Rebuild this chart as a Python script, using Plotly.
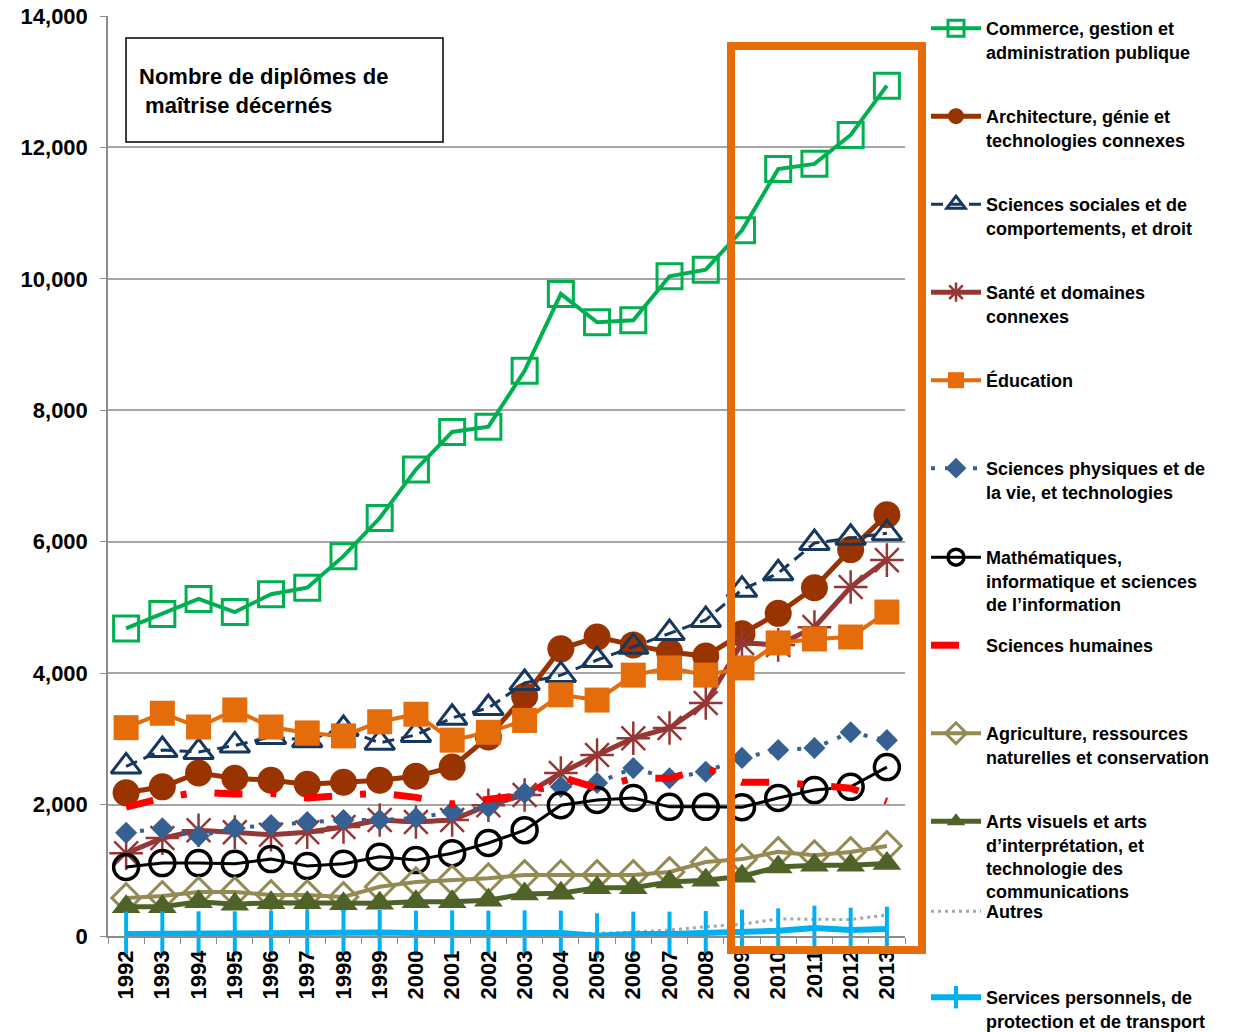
import plotly.graph_objects as go

# ---- data -------------------------------------------------------------
years = ["1992", "1993", "1994", "1995", "1996", "1997", "1998", "1999",
         "2000", "2001", "2002", "2003", "2004", "2005", "2006", "2007",
         "2008", "2009", "2010", "2011", "2012", "2013"]

commerce = [4680, 4900, 5130, 4930, 5200, 5300, 5780, 6360, 7100, 7670, 7750,
            8600, 9770, 9340, 9370, 10040, 10140, 10740, 11670, 11750, 12190, 12940]
architecture = [2180, 2270, 2480, 2400, 2370, 2310, 2340, 2370, 2430, 2570, 3030,
                3650, 4370, 4550, 4430, 4320, 4260, 4600, 4910, 5300, 5880, 6410]
sciences_sociales = [2580, 2830, 2800, 2900, 3030, 2980, 3150, 2940, 3060, 3320, 3470,
                     3850, 3970, 4200, 4400, 4610, 4810, 5270, 5520, 5980, 6060, 6130]
sante = [1260, 1490, 1610, 1580, 1540, 1580, 1660, 1765, 1735, 1765, 1990,
         2145, 2480, 2755, 3010, 3165, 3545, 4460, 4430, 4700, 5310, 5720]
education = [3170, 3390, 3180, 3440, 3180, 3090, 3045, 3260, 3375, 2980, 3100,
             3280, 3670, 3590, 3970, 4080, 3970, 4080, 4460, 4520, 4550, 4930]
sciences_physiques = [1570, 1640, 1520, 1640, 1690, 1735, 1765, 1765, 1795, 1890, 1960,
                      2175, 2270, 2330, 2555, 2400, 2500, 2710, 2830, 2860, 3100, 2980]
mathematiques = [1050, 1110, 1110, 1100, 1170, 1065, 1100, 1205, 1155, 1260, 1415,
                 1610, 1990, 2070, 2100, 1965, 1965, 1960, 2100, 2220, 2270, 2570]
sciences_humaines = [1960, 2100, 2190, 2160, 2170, 2100, 2140, 2175, 2110, 2010, 2080,
                     2145, 2420, 2250, 2400, 2400, 2555, 2340, 2340, 2300, 2250, 2050]
agriculture = [580, 610, 670, 670, 625, 625, 595, 750, 820, 850, 880,
               930, 930, 930, 930, 975, 1125, 1170, 1280, 1230, 1280, 1370]
arts = [445, 445, 520, 485, 505, 505, 490, 500, 520, 520, 545,
        640, 650, 735, 735, 820, 850, 910, 1050, 1075, 1075, 1105]
autres = [30, 30, 30, 30, 30, 30, 30, 60, 50, 40, 40,
          40, 40, 40, 60, 90, 140, 180, 260, 260, 250, 320]
services = [30, 35, 35, 35, 40, 50, 60, 55, 45, 50, 45,
            50, 45, 5, 30, 30, 40, 60, 80, 120, 90, 105]

labels = [
    "Commerce, gestion et<br>administration publique",
    "Architecture, génie et<br>technologies connexes",
    "Sciences sociales et de<br>comportements, et droit",
    "Santé et domaines<br>connexes",
    "Éducation",
    "Sciences physiques et de<br>la vie, et technologies",
    "Mathématiques,<br>informatique et sciences<br>de l’information",
    "Sciences humaines",
    "Agriculture, ressources<br>naturelles et conservation",
    "Arts visuels et arts<br>d’interprétation, et<br>technologie des<br>communications",
    "Autres",
    "Services personnels, de<br>protection et de transport",
]

title_text = "Nombre de diplômes de<br>\u00a0maîtrise décernés"

# ---- styles -------------------------------------------------------------
styles = [
    dict(values=commerce, color="#00B050", width=4, dash="solid",
         symbol="square-open", size=25, mlw=3),
    dict(values=architecture, color="#993300", width=5, dash="solid",
         symbol="circle", size=27, mlw=0),
    dict(values=sciences_sociales, color="#17375E", width=3, dash="12px,7px",
         symbol="triangle-up-open", size=26, mlw=3),
    dict(values=sante, color="#953735", width=5, dash="solid",
         symbol="asterisk-open", size=28, mlw=2.5),
    dict(values=education, color="#E46C0A", width=4, dash="solid",
         symbol="square", size=25, mlw=0),
    dict(values=sciences_physiques, color="#376092", width=4, dash="4px,10px",
         symbol="diamond", size=17, mlw=0),
    dict(values=mathematiques, color="#000000", width=3, dash="solid",
         symbol="circle-open", size=25, mlw=3.5),
    dict(values=sciences_humaines, color="#FF0000", width=7, dash="28px,28px,6px,28px",
         symbol=None, size=0, mlw=0),
    dict(values=agriculture, color="#948A54", width=4, dash="solid",
         symbol="diamond-open", size=22, mlw=3),
    dict(values=arts, color="#4F6228", width=5, dash="solid",
         symbol="triangle-up", size=25, mlw=0),
    dict(values=autres, color="#A6A6A6", width=3, dash="3px,4px",
         symbol=None, size=0, mlw=0),
    dict(values=services, color="#00B0F0", width=6, dash="solid",
         symbol="line-ns-open", size=32, mlw=4),
]

# ---- geometry of the plot area (pixels) -------------------------------
W, H = 1243, 1032
PL, PR, PT, PB = 108, 905, 16, 936


def px_x(x):
    return (x - PL) / (PR - PL)


def px_y(y):
    return (PB - y) / (PB - PT)


FONT = "Arial, 'Liberation Sans', sans-serif"

fig = go.Figure()

legend_layout = {}
legend_first_line = [29, 117, 205, 293, 381, 469, 558, 646, 734, 822, 912, 998]

for i, (lab, st) in enumerate(zip(labels, styles)):
    key = "legend" if i == 0 else f"legend{i + 1}"
    mode = "lines+markers" if st["symbol"] else "lines"
    marker = None
    if st["symbol"]:
        marker = dict(symbol=st["symbol"], size=st["size"], color=st["color"],
                      line=dict(color=st["color"], width=st["mlw"]))
    fig.add_trace(go.Scatter(
        x=years, y=st["values"], name=lab, mode=mode,
        line=dict(color=st["color"], width=st["width"], dash=st["dash"]),
        marker=marker, legend=key,
        cliponaxis=(st["symbol"] != "line-ns-open"),
        hoverinfo="x+y",
    ))
    legend_layout[key] = dict(
        x=px_x(926), xanchor="left",
        y=px_y(legend_first_line[i] - 19), yanchor="top",
        valign="top", itemwidth=50,
        bgcolor="rgba(0,0,0,0)", borderwidth=0,
        font=dict(family=FONT, size=18, color="#000000", weight="bold"),
        traceorder="normal",
    )

fig.update_layout(
    width=W, height=H,
    margin=dict(l=PL, r=W - PR, t=PT, b=H - PB, pad=0, autoexpand=False),
    paper_bgcolor="white", plot_bgcolor="white",
    font=dict(family=FONT, color="#000000"),
    showlegend=True,
    **legend_layout,
)

fig.update_xaxes(
    type="category", categoryorder="array", categoryarray=years,
    range=[-0.5, len(years) - 0.5],
    showline=True, linecolor="#8C8C8C", linewidth=1.5,
    ticks="outside", tickson="boundaries", ticklen=6, tickcolor="#8C8C8C",
    tickangle=-90, showgrid=False, ticklabelstandoff=4,
    tickfont=dict(family=FONT, size=22, color="#000000", weight="bold"),
)
fig.update_yaxes(
    range=[0, 14000], dtick=2000, tickformat=",d",
    showline=True, linecolor="#8C8C8C", linewidth=1.5,
    ticks="outside", ticklen=6, tickcolor="#8C8C8C",
    showgrid=True, gridcolor="#A6A6A6", gridwidth=1.5, zeroline=False,
    ticklabelstandoff=8,
    tickfont=dict(family=FONT, size=22, color="#000000", weight="bold"),
)

# title box
fig.add_shape(type="rect", xref="paper", yref="paper",
              x0=px_x(126), x1=px_x(443), y0=px_y(142), y1=px_y(38),
              line=dict(color="#000000", width=1.5), fillcolor="white", layer="above")
fig.add_annotation(xref="paper", yref="paper", x=px_x(137), y=px_y(62),
                   xanchor="left", yanchor="top", align="left", showarrow=False,
                   text=title_text,
                   font=dict(family=FONT, size=22, color="#000000", weight="bold"))

# highlight frame around the most recent years
fig.add_shape(type="rect", xref="paper", yref="paper",
              x0=px_x(731), x1=px_x(922), y0=px_y(950), y1=px_y(46),
              line=dict(color="#E46C0A", width=8), layer="above")

fig.write_html("out.html")
